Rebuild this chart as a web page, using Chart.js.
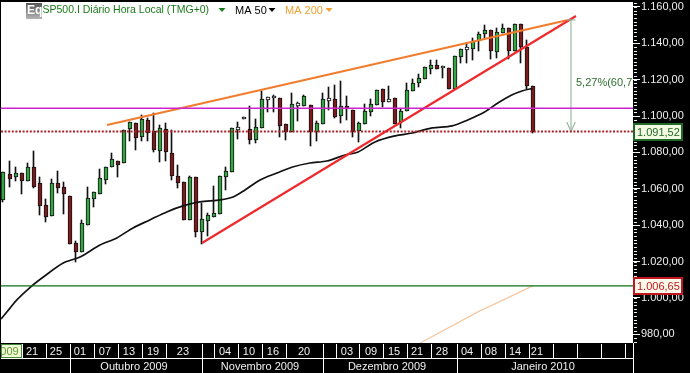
<!DOCTYPE html>
<html>
<head>
<meta charset="utf-8">
<style>html,body{margin:0;padding:0;background:#000}canvas{display:block}</style>
<script src="https://cdn.jsdelivr.net/npm/chart.js@4"></script>
</head>
<body>
<canvas id="c" width="690" height="373"></canvas>
<script>
const highs=[1069.2,1075.3,1072.0,1068.7,1074.2,1080.8,1066.5,1054.4,1065.4,1069.8,1063.7,1056.1,1031.3,1042.9,1061.0,1058.3,1070.9,1072.0,1079.7,1075.3,1092.4,1096.8,1096.2,1100.6,1099.0,1101.7,1095.1,1096.2,1092.4,1073.1,1063.7,1067.0,1066.5,1052.2,1046.7,1061.5,1067.0,1072.0,1093.5,1096.8,1099.5,1105.5,1098.4,1113.8,1110.5,1111.6,1110.0,1095.7,1112.7,1107.8,1111.6,1106.1,1097.3,1112.7,1116.0,1117.1,1119.3,1111.0,1103.4,1096.8,1106.7,1109.4,1114.4,1114.9,1116.6,1110.0,1103.9,1118.2,1120.4,1123.2,1127.0,1130.9,1130.9,1127.6,1126.5,1133.0,1136.9,1140.2,1143.0,1146.2,1150.1,1147.3,1148.4,1150.6,1148.4,1150.6,1150.6,1141.8,1116.5];
const lows=[1052.8,1061.0,1064.3,1057.2,1064.3,1060.5,1045.6,1041.8,1045.0,1057.7,1046.1,1029.6,1019.7,1025.3,1040.1,1050.0,1057.2,1062.7,1072.0,1066.5,1074.2,1086.3,1081.4,1086.3,1086.3,1080.3,1074.8,1075.3,1064.9,1060.5,1042.9,1042.9,1033.5,1029.6,1034.0,1044.5,1046.1,1059.4,1069.2,1087.4,1098.4,1084.7,1085.2,1093.5,1102.3,1102.3,1088.5,1086.9,1091.3,1097.3,1105.5,1083.6,1086.3,1095.7,1103.4,1099.0,1096.2,1097.9,1088.5,1085.8,1095.7,1100.0,1106.1,1105.0,1107.8,1095.7,1093.5,1102.8,1113.8,1116.0,1120.4,1123.2,1125.9,1121.0,1114.9,1114.9,1129.2,1129.2,1130.9,1135.8,1143.0,1131.4,1132.0,1145.7,1131.4,1135.8,1129.2,1114.9,1090.7];
const opens=[1053.9,1068.2,1066.5,1068.7,1064.3,1072.0,1063.2,1051.1,1045.0,1063.2,1061.0,1056.1,1030.2,1025.3,1040.1,1054.4,1057.2,1064.9,1072.0,1075.3,1074.2,1092.9,1096.2,1088.5,1097.9,1091.8,1080.8,1092.9,1079.7,1067.0,1063.7,1042.9,1066.5,1036.2,1042.3,1044.5,1046.1,1066.5,1069.2,1092.4,1098.4,1092.9,1086.9,1093.5,1108.9,1110.0,1110.0,1095.7,1091.3,1105.5,1105.5,1106.1,1091.3,1095.7,1108.3,1109.4,1100.0,1105.5,1103.4,1091.8,1095.7,1102.3,1106.1,1114.9,1107.8,1110.0,1096.8,1102.8,1113.8,1118.2,1120.4,1125.9,1128.1,1126.5,1126.5,1114.9,1132.5,1136.4,1136.9,1141.3,1145.1,1147.3,1135.3,1145.7,1148.4,1135.8,1150.6,1138.0,1116.5];
const closes=[1069.2,1065.4,1068.7,1064.3,1072.0,1061.0,1050.6,1044.5,1063.2,1060.5,1057.2,1029.6,1025.3,1041.2,1055.0,1058.3,1066.0,1072.0,1076.4,1073.1,1092.4,1096.8,1088.0,1098.4,1090.7,1081.4,1093.4,1080.3,1067.0,1063.2,1042.9,1066.5,1036.2,1043.4,1045.6,1046.7,1067.0,1069.8,1093.5,1094.0,1099.5,1086.9,1094.0,1109.4,1110.5,1111.0,1094.6,1091.3,1106.7,1107.2,1111.0,1091.3,1096.2,1109.4,1110.0,1099.5,1105.5,1103.9,1091.3,1096.2,1102.8,1106.7,1114.4,1107.8,1109.4,1095.7,1102.8,1114.4,1118.2,1121.0,1127.0,1128.1,1125.9,1127.6,1114.9,1133.0,1136.9,1138.0,1141.3,1145.1,1147.3,1135.8,1146.2,1148.4,1135.8,1150.6,1138.0,1116.5,1091.5];
const hollowCandles=[39,40,44,45,49,54,64,73,77];

const ma50Pos=[-0.33,1.2,2.3,4.8,6.7,10,12.8,16.1,18.9,21.6,24.4,27.2,29.9,32.7,36.1,38.2,40.2,42.7,45.5,48.1,51,53.8,56.8,59,61.8,65.1,68,71.3,74.6,77.2,80,82.2,84.5,86.2,87.5,88];
const ma50Val=[988.4,994.5,998.9,1006.6,1011.5,1019.2,1022.5,1029.1,1033,1038.5,1042.9,1047.3,1050.6,1052.8,1053.9,1055.5,1059.4,1064.9,1068.7,1072,1074.2,1075.3,1078.6,1080.3,1085.8,1089.1,1090.7,1093.5,1094.6,1097.9,1102.3,1107.2,1111.6,1113.8,1114.9,1114.9];
const ma200Pos=[69.3,78.9,88];
const ma200Val=[975.2,992.3,1006.6];

const orangeTrendPos=[17.28,93.85];
const orangeTrendVal=[1095.1,1152.85];
const redTrendPos=[33.06,95.18];
const redTrendVal=[1030.2,1155.05];
const lastClose=1091.52;
const supportLevel=1006.65;
const resistanceLevel=1104.3;
const arrowPos=94.35;
const arrowTop=1152.85;
const arrowCapPos=[93.6,95.1];
const arrowHeadPos=[93.65,94.35,95.05];
const arrowHeadVal=[1096.7,1091.52,1096.7];

const axisMin=-0.33, axisMax=104.65;
const valueMin=975.2, valueMax=1162.75;
const dayTicks=[4.82,8.8,12.79,16.94,20.93,24.92,29.9,36.88,40.86,44.85,50,57.14,61.13,64.95,68.77,72.92,77.08,81.06,85.05,88.7];
const dayLabels=['21','25','01','07','13','19','23','04','10','16','20','03','09','15','21','28','04','08','14','21'];
const daySeparators=[3.16,7.08,11.08,15.12,19.1,23.09,27.08,33.06,35.05,39.04,43.02,47.01,53.16,55.32,59.14,63.12,67.11,71.1,75.42,79.4,83.39,87.38,91.36,95.35,99.34,103.32];
const monthTicks=[21.76,42.69,63.79,89.7];
const monthLabels=['Outubro 2009','Novembro 2009','Dezembro 2009','Janeiro 2010'];
const monthSeparators=[11.08,33.06,53.16,75.42,104.65];

const FONT='"Liberation Sans", Arial, sans-serif';
const GREEN='#35a543', RED='#7c1b1e';

const formatBR=v=>{
  const [a,b]=Number(v).toFixed(2).split('.');
  return a.replace(/\B(?=(\d{3})+$)/g,'.')+','+b;
};
const bodyColor=(i)=>hollowCandles.includes(i)?'#ffffff':(closes[i]>=opens[i]?GREEN:RED);
const line=(label,xs,ys,color,width,extra)=>Object.assign({
  type:'line',label,data:xs.map((x,i)=>({x,y:ys[i]})),borderColor:color,borderWidth:width,
  pointRadius:0,tension:0,fill:false,order:1,xAxisID:'x',yAxisID:'y'
},extra||{});

const datasets=[
  {type:'bar',label:'wicks',order:10,grouped:false,barThickness:1,backgroundColor:'#111',borderWidth:0,
   data:highs.map((h,i)=>({x:i,y:[lows[i],h]})),xAxisID:'x',yAxisID:'y'},
  {type:'bar',label:'bodies',order:9,grouped:false,barThickness:4,backgroundColor:highs.map((h,i)=>bodyColor(i)),
   borderColor:'#111',borderWidth:1,borderSkipped:false,
   data:opens.map((o,i)=>({x:i,y:[o,closes[i]]})),xAxisID:'x',yAxisID:'y'},
  line('MA 50',ma50Pos,ma50Val,'#111',1.7,{tension:0.3,order:5}),
  line('MA 200',ma200Pos,ma200Val,'#f6c8a0',1.2,{order:5}),
  line('Suporte',[axisMin,axisMax],[supportLevel,supportLevel],'#0f6f15',1.3),
  line('Resistência',[axisMin,axisMax],[resistanceLevel,resistanceLevel],'#cf22cf',1.3),
  line('Último',[axisMin,axisMax],[lastClose,lastClose],'#ad2126',2,{borderDash:[2,1.6]}),
  line('Canal',orangeTrendPos,orangeTrendVal,'#f07c2e',2.2,{order:3}),
  line('Tendência',redTrendPos,redTrendVal,'#ee2a2e',2.2,{order:2}),
  line('Seta',[arrowPos,arrowPos],[arrowTop,lastClose],'#9cb8a4',1.2),
  line('Seta topo',arrowCapPos,[arrowTop,arrowTop],'#9cb8a4',1.2),
  line('Seta ponta',arrowHeadPos,arrowHeadVal,'#9cb8a4',1.2)
];

const tag=(ctx,y,x0,x1,h,fill,stroke,color,text)=>{
  const top=Math.round(y-h/2);
  ctx.fillStyle=fill;ctx.fillRect(x0,top,x1-x0,h);
  ctx.strokeStyle=stroke;ctx.lineWidth=2;ctx.strokeRect(x0+1,top+1,x1-x0-2,h-2);
  ctx.fillStyle=color;ctx.font='11px '+FONT;ctx.textAlign='left';ctx.textBaseline='middle';
  ctx.fillText(text,x0+4,top+h/2+0.5);
};
const tri=(ctx,x,y,color)=>{
  ctx.fillStyle=color;ctx.beginPath();ctx.moveTo(x-3.5,y);ctx.lineTo(x+3.5,y);ctx.lineTo(x,y+4);ctx.closePath();ctx.fill();
};

const frame={
  id:'frame',
  afterDatasetsUpdate(chart){
    chart.getSortedVisibleDatasetMetas().forEach(m=>{
      if(m.type!=='bar')return;
      const body=m.controller.getDataset().label==='bodies';
      m.data.forEach(el=>{
        el.x=Math.floor(el.x)+(body?1:0.5);
        el.y=Math.round(el.y);
        el.base=Math.round(el.base);
        if(el.height!==undefined)el.height=el.base-el.y;
      });
    });
  },
  beforeDraw(chart){
    const {ctx,chartArea:a,width,height}=chart;
    ctx.save();
    ctx.fillStyle='#000';ctx.fillRect(0,0,width,height);
    ctx.fillStyle='#fff';ctx.fillRect(a.left,a.top,a.right-a.left,a.bottom-a.top);
    ctx.restore();
  },
  afterDraw(chart){
    const {ctx,chartArea:a,scales:{x,y}}=chart;
    ctx.save();
    // minor value ticks
    ctx.fillStyle='#e6f6f6';
    for(let v=976;v<valueMax;v+=2){
      ctx.fillRect(a.right+1,Math.round(y.getPixelForValue(v)),3,1);
    }
    // arrow label, cut by the plot edge
    ctx.save();
    ctx.beginPath();ctx.rect(a.left,a.top,a.right-a.left,a.bottom-a.top);ctx.clip();
    ctx.fillStyle='#2c6f2c';ctx.font='11px '+FONT;ctx.textAlign='left';ctx.textBaseline='middle';
    ctx.fillText('5,27%(60,71)',576,y.getPixelForValue(1118.3));
    ctx.restore();
    // axis rows
    const rowTop=a.bottom+1,rowMid=358;
    ctx.fillStyle='#fff';
    ctx.fillRect(a.left,rowMid,a.right-a.left,1);
    ctx.fillRect(a.right,a.bottom,1,30);
    daySeparators.forEach(v=>ctx.fillRect(Math.round(x.getPixelForValue(v)),rowTop,1,rowMid-rowTop));
    monthSeparators.forEach(v=>ctx.fillRect(Math.round(x.getPixelForValue(v)),rowMid,1,15));
    // highlighted date cell
    ctx.fillStyle='#f3f8d4';ctx.fillRect(1,rowTop,21,14);
    ctx.strokeStyle='#3d8a3d';ctx.lineWidth=1;ctx.strokeRect(1.5,rowTop+.5,20,13);
    ctx.fillStyle='#5a9a3a';ctx.font='11px '+FONT;ctx.textAlign='center';ctx.textBaseline='middle';
    ctx.fillText('009',9.5,351.5);
    // header
    const g=ctx.createLinearGradient(0,3,0,19);g.addColorStop(0,'#555');g.addColorStop(1,'#b5b5b5');
    ctx.fillStyle=g;ctx.fillRect(26,3,16,16);
    ctx.fillStyle='#fff';ctx.font='bold 12px '+FONT;ctx.textAlign='left';ctx.textBaseline='middle';
    ctx.fillText('Eq',27,11);
    ctx.font='10.5px '+FONT;
    ctx.fillStyle='#1a7a1a';ctx.fillText('SP500.I Diário Hora Local (TMG+0)',42.5,10.5);
    tri(ctx,222,8,'#1a7a1a');
    ctx.font='11px '+FONT;
    ctx.fillStyle='#000';ctx.fillText('MA 50',235,10.5);
    tri(ctx,272,8,'#000');
    ctx.fillStyle='#f0a030';ctx.fillText('MA 200',285,10.5);
    tri(ctx,329,8,'#f0a030');
    // value tags
    tag(ctx,y.getPixelForValue(lastClose),633,683,18,'#f3f9e2','#1f6a24','#1f6a24',formatBR(lastClose));
    tag(ctx,y.getPixelForValue(supportLevel),633,683,18,'#fdf9ea','#c0181c','#c0181c',formatBR(supportLevel));
    ctx.restore();
  }
};

const noMargin=s=>{s.paddingLeft=0;s.paddingRight=0;s.paddingTop=0;s.paddingBottom=0;};

new Chart(document.getElementById('c'),{
  data:{datasets},
  plugins:[frame],
  options:{
    responsive:false,animation:false,devicePixelRatio:1,
    layout:{padding:{left:1,top:2,right:0,bottom:0}},
    plugins:{legend:{display:false},tooltip:{enabled:false}},
    scales:{
      x:{type:'linear',position:'bottom',offset:false,min:axisMin,max:axisMax,
        grid:{display:false,drawTicks:false,offset:false},border:{display:false},
        afterBuildTicks:s=>{s.ticks=dayTicks.map(value=>({value}));},
        afterFit:s=>{s.height=15;noMargin(s);},
        ticks:{autoSkip:false,maxRotation:0,padding:2,color:'#f0f0f0',font:{family:FONT,size:11},
          callback:(v,i)=>dayLabels[i]}},
      xm:{type:'linear',axis:'x',position:'bottom',offset:false,min:axisMin,max:axisMax,
        grid:{display:false,drawTicks:false,offset:false},border:{display:false},
        afterBuildTicks:s=>{s.ticks=monthTicks.map(value=>({value}));},
        afterFit:s=>{s.height=15;noMargin(s);},
        ticks:{autoSkip:false,maxRotation:0,padding:2,color:'#f0f0f0',font:{family:FONT,size:11},
          callback:(v,i)=>monthLabels[i]}},
      y:{type:'linear',position:'right',min:valueMin,max:valueMax,
        grid:{drawOnChartArea:false,drawTicks:true,tickLength:7,tickColor:'#fff',tickWidth:1},border:{display:false},
        afterFit:s=>{s.width=57;noMargin(s);},
        ticks:{stepSize:20,includeBounds:false,crossAlign:'near',padding:1,color:'#f0f0f0',font:{family:FONT,size:11},
          callback:v=>formatBR(v)}}
    }
  }
});
</script>
</body>
</html>
